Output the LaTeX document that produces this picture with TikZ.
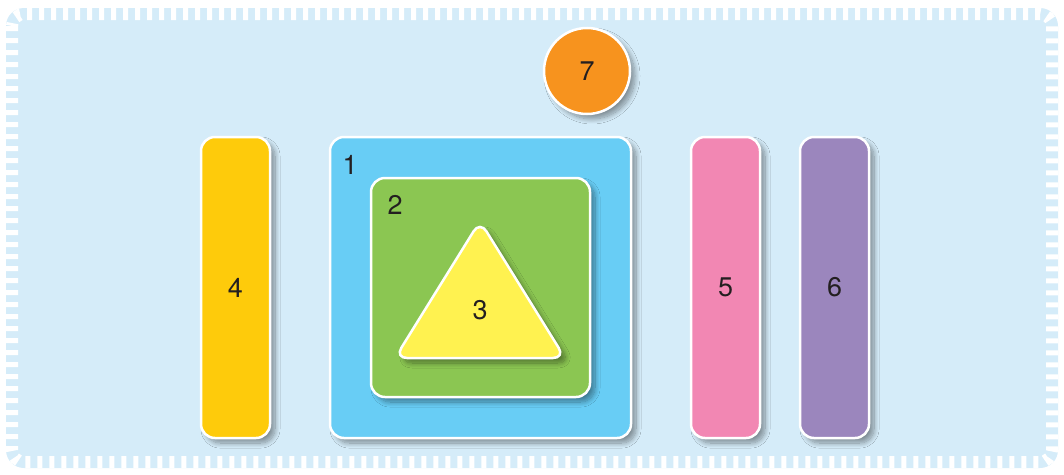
\documentclass[tikz,border=0pt]{standalone}
\usepackage{fontspec}
\setmainfont{TeX Gyre Heros}
\usetikzlibrary{shadows.blur}
\definecolor{bgblue}{HTML}{D5ECF9}
\definecolor{cblue}{HTML}{68CDF5}
\definecolor{cgreen}{HTML}{8BC652}
\definecolor{cyellowA}{HTML}{FECB0B}
\definecolor{cyellowB}{HTML}{FFF250}
\definecolor{cpink}{HTML}{F287B3}
\definecolor{cpurple}{HTML}{9B86BD}
\definecolor{corange}{HTML}{F7931E}
\definecolor{ctext}{HTML}{231F20}
\begin{document}
\begin{tikzpicture}[x=1pt,y=-1pt,
  shad/.style={blur shadow={shadow xshift=5pt,shadow yshift=-5pt,shadow blur radius=5pt,shadow blur steps=12,shadow opacity=40}},
  lbl/.style={font=\fontsize{27}{30}\selectfont,text=ctext,inner sep=0pt},
  box/.style={draw=white,line width=2.5pt,rounded corners=14pt,shad,inner sep=0pt,lbl}]
\useasboundingbox (0,0) rectangle (1064,474);
\fill[bgblue,rounded corners=18pt] (6,8) rectangle (1058,468);
\draw[white,line width=12pt,dash pattern=on 5pt off 7pt,rounded corners=12pt] (12,14) rectangle (1052,462);
\node[box,fill=cblue,minimum width=301pt,minimum height=301pt] (n1) at (480.5,287.5) {};
\node[lbl] (l1) at (350,165) {1};
\node[box,fill=cgreen,minimum width=219pt,minimum height=219pt] (n2) at (480.5,287.5) {};
\node[lbl] (l2) at (395,205) {2};
\path[draw=white,line width=2.5pt,fill=cyellowB,rounded corners=12pt,shad] (480,221) -- (565,358) -- (395,358) -- cycle;
\node[lbl] (n3) at (480,310) {3};
\node[box,fill=cyellowA,minimum width=69pt,minimum height=301pt] (n4) at (235.5,287.5) {4};
\node[box,fill=cpink,minimum width=69pt,minimum height=301pt] (n5) at (725.5,287.5) {5};
\node[box,fill=cpurple,minimum width=69pt,minimum height=301pt] (n6) at (834.5,287.5) {6};
\node[circle,draw=white,line width=2.5pt,fill=corange,minimum size=86pt,shad,lbl] (n7) at (587,71) {7};
\end{tikzpicture}
\end{document}
